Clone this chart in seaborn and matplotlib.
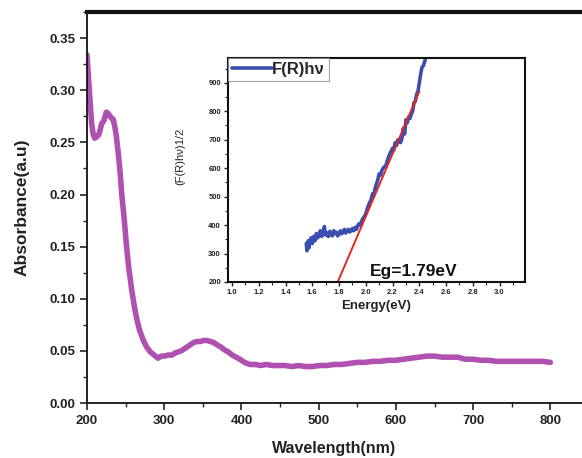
import matplotlib
matplotlib.use("Agg")
import matplotlib.pyplot as plt
from matplotlib.ticker import MultipleLocator
import numpy as np
import pandas as pd
import seaborn as sns

# UV-Vis absorbance spectrum
wavelength = [200, 203, 206, 208, 210, 212, 215, 217, 219, 222, 225, 227, 230, 232, 234,
              236, 238, 241, 243, 245, 248, 251, 254, 258, 261, 264, 268, 273, 277, 282,
              287, 292, 296, 300, 305, 310, 314, 318, 322, 326, 330, 334, 338, 342, 347,
              351, 355, 360, 364, 368, 373, 378, 383, 388, 393, 398, 404, 411, 418, 425,
              432, 440, 448, 456, 465, 474, 483, 492, 501, 510, 520, 530, 540, 550, 560,
              570, 580, 590, 600, 610, 620, 630, 640, 650, 660, 670, 680, 690, 700, 710,
              720, 730, 740, 750, 760, 770, 780, 790, 800]
absorbance = [0.334, 0.300, 0.268, 0.258, 0.254, 0.255, 0.257, 0.262, 0.268, 0.271, 0.279, 0.278, 0.275, 0.273, 0.272,
              0.265, 0.256, 0.236, 0.220, 0.200, 0.178, 0.152, 0.130, 0.108, 0.094, 0.082, 0.070, 0.060, 0.054, 0.049,
              0.046, 0.043, 0.045, 0.045, 0.046, 0.046, 0.048, 0.049, 0.050, 0.052, 0.054, 0.056, 0.058, 0.059, 0.059,
              0.060, 0.060, 0.059, 0.058, 0.056, 0.054, 0.051, 0.049, 0.046, 0.044, 0.042, 0.039, 0.037, 0.037, 0.036,
              0.037, 0.036, 0.036, 0.036, 0.035, 0.036, 0.035, 0.035, 0.036, 0.036, 0.037, 0.037, 0.038, 0.039, 0.039,
              0.040, 0.040, 0.041, 0.041, 0.042, 0.043, 0.044, 0.045, 0.045, 0.044, 0.044, 0.044, 0.042, 0.042, 0.041,
              0.041, 0.040, 0.040, 0.040, 0.040, 0.040, 0.040, 0.040, 0.039]

# Tauc plot (inset)
energy = [1.555, 1.560, 1.565, 1.570, 1.575, 1.580, 1.590, 1.600, 1.610, 1.620, 1.630, 1.640, 1.650,
          1.660, 1.670, 1.680, 1.690, 1.700, 1.710, 1.720, 1.730, 1.740, 1.750, 1.760, 1.770,
          1.780, 1.790, 1.800, 1.810, 1.820, 1.830, 1.840, 1.850, 1.860, 1.870, 1.880, 1.890,
          1.900, 1.910, 1.920, 1.930, 1.940, 1.950, 1.960, 1.970, 1.980, 1.990, 2.000, 2.010,
          2.020, 2.030, 2.040, 2.050, 2.060, 2.070, 2.080, 2.090, 2.100, 2.110, 2.120, 2.130,
          2.140, 2.150, 2.160, 2.170, 2.180, 2.190, 2.200, 2.210, 2.220, 2.230, 2.240, 2.250,
          2.260, 2.270, 2.280, 2.290, 2.300, 2.310, 2.320, 2.330, 2.340, 2.350, 2.360, 2.370,
          2.380, 2.390, 2.400, 2.410, 2.420, 2.430, 2.440, 2.450]
tauc = [335, 310, 330, 345, 320, 340, 355, 335, 360, 345, 370, 355, 365,
        380, 360, 372, 395, 365, 372, 360, 378, 368, 362, 380, 370,
        375, 362, 368, 380, 370, 375, 385, 372, 378, 385, 376, 380,
        388, 380, 392, 385, 398, 405, 400, 415, 425, 430, 440, 455,
        470, 480, 490, 510, 505, 530, 545, 560, 580, 575, 592, 600,
        605, 610, 625, 640, 650, 660, 670, 665, 690, 680, 700, 695,
        690, 705, 740, 720, 770, 760, 780, 775, 790, 800, 830, 835,
        860, 870, 900, 930, 955, 960, 975, 990]
band_gap = 1.79
fit_end_energy = 2.40
fit_end_value = 870
fit_floor = 200

x_ticks = [200, 300, 400, 500, 600, 700, 800]
y_ticks = [0.00, 0.05, 0.10, 0.15, 0.20, 0.25, 0.30, 0.35]

sns.set_theme(style="ticks")
plt.rcParams["font.family"] = ["Liberation Sans", "DejaVu Sans"]
plt.rcParams["font.weight"] = "bold"

fig = plt.figure(figsize=(5.82, 4.58), dpi=100)
ax = fig.add_axes([0.1495, 0.120, 0.8505, 0.8537])

spec = pd.DataFrame({"wavelength": wavelength, "absorbance": absorbance})
sns.lineplot(data=spec, x="wavelength", y="absorbance", ax=ax, color="#B050B0",
             linewidth=4.0, estimator=None, sort=False)

ax.set_xlim(200, 841)
ax.set_ylim(0, 0.375)
ax.set_xticks(x_ticks)
ax.set_yticks(y_ticks)
ax.xaxis.set_minor_locator(MultipleLocator(50))
ax.yaxis.set_minor_locator(MultipleLocator(0.025))
ax.set_xticklabels([str(v) for v in x_ticks], fontsize=9.5, fontweight="bold")
ax.set_yticklabels([f"{v:.2f}" for v in y_ticks], fontsize=9.5, fontweight="bold")
ax.tick_params(which="major", direction="out", length=5, width=1.2, colors="#222222")
ax.tick_params(which="minor", direction="out", length=3, width=1.0, colors="#222222")
ax.tick_params(axis="both", labelcolor="#222222")
ax.spines["right"].set_visible(False)
ax.spines["top"].set_linewidth(3.0)
ax.spines["left"].set_linewidth(1.3)
ax.spines["bottom"].set_linewidth(1.3)
for s in ax.spines.values():
    s.set_color("#111111")
ax.set_xlabel("Wavelength(nm)", fontsize=11.5, fontweight="bold", labelpad=10, color="#222222")
ax.set_ylabel("Absorbance(a.u)", fontsize=12.5, fontweight="bold", labelpad=14, color="#222222")

# Inset: Tauc plot with linear extrapolation to the band gap
ins = fig.add_axes([0.3918, 0.3843, 0.5103, 0.489])
tdf = pd.DataFrame({"energy": energy, "tauc": tauc})
sns.lineplot(data=tdf, x="energy", y="tauc", ax=ins, color="#3A4DB0", linewidth=2.6,
             estimator=None, sort=False, label="F(R)h\u03bd")
ins.plot([band_gap, fit_end_energy], [fit_floor, fit_end_value], color="#E8241E", linewidth=1.4)

ins.set_xlim(0.97, 3.19)
ins.set_ylim(200, 987)
ins.xaxis.set_minor_locator(MultipleLocator(0.1))
ins.yaxis.set_minor_locator(MultipleLocator(50))
inset_xt = np.arange(1.0, 3.01, 0.2)
ins.set_xticks(inset_xt)
ins.set_xticklabels([f"{v:.1f}" for v in inset_xt], fontsize=5.5, fontweight="bold")
ins.set_yticks(range(200, 901, 100))
ins.set_yticklabels([str(v) for v in range(200, 901, 100)], fontsize=5.5, fontweight="bold")
ins.tick_params(which="major", direction="out", length=3, width=1.0, colors="#222222", pad=2)
ins.tick_params(which="minor", direction="out", length=2, width=0.8, colors="#222222")
for s in ins.spines.values():
    s.set_linewidth(1.5)
    s.set_color("#111111")
ins.set_xlabel("Energy(eV)", fontsize=9.5, fontweight="bold", labelpad=3, color="#222222")
ins.set_ylabel("(F(R)h\u03bd)1/2", fontsize=8, fontweight="normal", labelpad=12, color="#222222")
ins.yaxis.set_label_coords(-0.145, 0.56)
ins.text(2.358, 236, f"Eg={band_gap}eV", fontsize=12.5, fontweight="bold", ha="center", va="center",
         color="#111111")

leg = ins.legend(loc="upper left", bbox_to_anchor=(0.0, 1.0), borderaxespad=0.0, frameon=True,
                 fancybox=False, handlelength=2.4, handletextpad=0.0, borderpad=0.25,
                 prop={"size": 12, "weight": "bold"})
leg.get_frame().set_edgecolor("#888888")
leg.get_frame().set_linewidth(0.8)

fig.savefig("out.png", dpi=100)
